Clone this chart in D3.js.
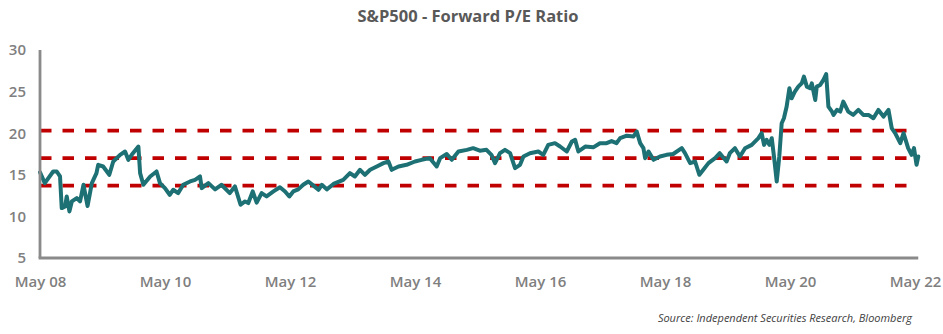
<!DOCTYPE html>
<html>
<head>
<meta charset="utf-8">
<script src="https://cdn.jsdelivr.net/npm/d3@7"></script>
<style>
  html, body { margin: 0; padding: 0; background: #ffffff; }
  svg { display: block; }
</style>
</head>
<body>
<svg id="chart" width="943" height="334"></svg>
<script>
// ---------------- DATA ----------------
const chartTitle = "S&P500 - Forward P/E Ratio";
const sourceNote = "Source: Independent Securities Research, Bloomberg";

const dates = [
  "2008-05-01","2008-05-29","2008-07-17","2008-08-07","2008-08-26","2008-09-05","2008-09-25","2008-10-04","2008-10-20","2008-11-03",
  "2008-12-02","2008-12-21","2009-01-10","2009-02-03","2009-02-28","2009-03-27","2009-04-06","2009-05-05","2009-06-10","2009-07-03",
  "2009-08-12","2009-09-10","2009-09-29","2009-10-19","2009-11-27","2009-12-07","2009-12-26","2010-02-04","2010-03-13","2010-04-02",
  "2010-05-01","2010-05-29","2010-06-18","2010-07-17","2010-08-16","2010-09-25","2010-10-24","2010-11-22","2010-12-02","2011-01-10",
  "2011-02-18","2011-03-27","2011-05-15","2011-06-14","2011-07-17","2011-08-12","2011-08-31","2011-09-26","2011-10-19","2011-11-17",
  "2011-12-16","2012-01-25","2012-03-03","2012-04-02","2012-04-27","2012-05-20","2012-06-18","2012-07-17","2012-08-16","2012-09-15",
  "2012-10-14","2012-11-03","2012-12-02","2013-01-10","2013-03-08","2013-04-16","2013-05-15","2013-06-14","2013-07-13","2013-08-12",
  "2013-09-20","2013-10-29","2013-11-27","2013-12-16","2014-01-25","2014-03-13","2014-05-01","2014-06-09","2014-07-27","2014-09-05",
  "2014-09-25","2014-11-03","2014-12-02","2015-01-10","2015-02-28","2015-04-06","2015-05-15","2015-06-23","2015-07-22","2015-08-12",
  "2015-09-10","2015-10-09","2015-11-08","2015-12-07","2016-01-05","2016-01-25","2016-03-03","2016-04-21","2016-05-20","2016-06-18",
  "2016-07-27","2016-08-26","2016-10-04","2016-11-03","2016-11-22","2016-12-11","2017-01-20","2017-03-08","2017-04-16","2017-05-25",
  "2017-06-23","2017-07-22","2017-08-12","2017-09-20","2017-10-29","2017-11-17","2017-12-07","2017-12-26","2018-01-05","2018-01-25",
  "2018-02-23","2018-04-02","2018-05-10","2018-06-18","2018-08-07","2018-08-26","2018-09-25","2018-10-24","2018-11-18","2018-12-11",
  "2019-01-10","2019-02-18","2019-03-17","2019-04-26","2019-05-15","2019-06-14","2019-07-13","2019-08-12","2019-09-20","2019-10-29",
  "2019-11-17","2019-12-01","2019-12-16","2020-01-01","2020-01-15","2020-01-28","2020-02-13","2020-02-28","2020-03-13","2020-03-26",
  "2020-04-11","2020-04-27","2020-05-10","2020-05-29","2020-06-18","2020-07-08","2020-07-21","2020-08-07","2020-08-26","2020-09-05",
  "2020-09-25","2020-10-04","2020-10-24","2020-11-12","2020-11-28","2020-12-11","2021-01-01","2021-01-10","2021-01-30","2021-02-18",
  "2021-03-08","2021-04-06","2021-05-05","2021-06-04","2021-07-03","2021-08-02","2021-08-31","2021-09-29","2021-10-29","2021-11-27",
  "2021-12-16","2022-01-05","2022-02-04","2022-02-23","2022-03-22","2022-04-11","2022-04-25","2022-05-10","2022-05-20"
];

const peValues = [
  15.3,14.0,15.4,15.4,14.8,11.0,11.2,12.4,10.6,11.8,
  12.2,11.8,13.8,11.25,14.0,15.2,16.2,16.0,15.0,16.6,
  17.4,17.8,16.8,17.4,18.4,15.2,13.8,14.8,15.4,14.0,
  13.4,12.6,13.2,12.8,13.8,14.2,14.4,14.8,13.4,14.0,
  13.25,13.8,12.8,13.6,11.4,11.8,11.6,13.0,11.65,12.8,
  12.4,13.0,13.5,13.0,12.4,13.0,13.25,13.8,14.2,13.7,
  13.2,13.8,13.25,13.9,14.4,15.2,14.8,15.6,15.0,15.6,
  16.0,16.4,16.6,15.6,16.0,16.2,16.6,16.8,17.0,16.0,
  17.0,17.5,16.8,17.8,18.0,18.2,17.9,18.0,17.4,16.4,
  17.6,18.0,17.6,15.8,16.2,17.2,17.6,17.8,17.4,18.6,
  18.8,18.4,17.8,19.0,19.2,17.8,18.4,18.3,18.8,18.8,
  19.05,18.8,19.4,19.7,19.6,20.2,18.8,18.2,17.0,17.8,
  16.8,17.2,17.4,17.5,18.2,17.6,16.4,16.6,15.0,15.6,
  16.4,17.0,17.6,16.6,17.6,18.2,17.2,18.2,18.6,19.4,
  20.0,18.6,19.2,18.6,19.4,17.2,14.2,17.2,21.2,21.8,
  23.2,25.4,24.2,25.0,25.6,26.0,26.8,25.6,25.4,26.0,
  24.0,25.6,25.8,26.4,27.1,23.2,22.6,22.2,22.8,22.6,
  23.8,22.6,22.2,22.8,22.2,22.2,21.8,22.8,22.0,22.8,
  20.6,20.0,18.8,20.0,18.2,17.4,18.2,16.2,17.2
];

// average and +/- 1 standard deviation bands
const refLevels = [20.3, 17.0, 13.7];

const xTickDates = ["2008-05-01","2010-05-01","2012-05-01","2014-05-01","2016-05-01","2018-05-01","2020-05-01","2022-05-01"];
const xTickLabels = ["May 08","May 10","May 12","May 14","May 16","May 18","May 20","May 22"];
const yTicks = [5, 10, 15, 20, 25, 30];

// ---------------- DRAW ----------------
const parse = d3.timeParse("%Y-%m-%d");
const series = dates.map((d, i) => ({ date: parse(d), value: peValues[i] }));
const tickDates = xTickDates.map(parse);

const svg = d3.select("#chart");
const fontFam = "'Open Sans', 'Noto Sans', sans-serif";

const x = d3.scaleTime()
  .domain([tickDates[0], tickDates[tickDates.length - 1]])
  .range([40, 915]);
const y = d3.scaleLinear().domain([5, 30]).range([258, 50]);

const axisColor = "#8a8a8a";
const labelColor = "#7f7f7f";
const xEnd = x(series[series.length - 1].date);

// title
svg.append("text")
  .attr("x", 468).attr("y", 22)
  .attr("text-anchor", "middle")
  .attr("font-family", fontFam)
  .attr("font-weight", 700)
  .attr("font-size", 16.5)
  .attr("fill", "#595959")
  .text(chartTitle);

// reference dashed lines
svg.append("g").selectAll("line")
  .data(refLevels)
  .join("line")
  .attr("x1", x.range()[0]).attr("x2", 911)
  .attr("y1", d => y(d)).attr("y2", d => y(d))
  .attr("stroke", "#c00000")
  .attr("stroke-width", 3.8)
  .attr("stroke-dasharray", "11.5,11");

// line
const line = d3.line()
  .x(d => x(d.date))
  .y(d => y(d.value))
  .curve(d3.curveLinear);

svg.append("path")
  .datum(series)
  .attr("fill", "none")
  .attr("stroke", "#1d7073")
  .attr("stroke-width", 4)
  .attr("stroke-linejoin", "round")
  .attr("stroke-linecap", "round")
  .attr("d", line);

// y axis
const yAxis = d3.axisLeft(y).tickValues(yTicks).tickSize(0).tickPadding(14);
const gy = svg.append("g").attr("transform", `translate(${x.range()[0]},0)`).call(yAxis);
gy.select(".domain").remove();
gy.selectAll("text")
  .attr("font-family", fontFam)
  .attr("font-size", 15)
  .attr("font-weight", 600)
  .attr("fill", labelColor);

svg.append("line")
  .attr("x1", x.range()[0]).attr("x2", x.range()[0])
  .attr("y1", y.range()[1]).attr("y2", y.range()[0])
  .attr("stroke", axisColor).attr("stroke-width", 2.8);

// x axis
const xAxis = d3.axisBottom(x)
  .tickValues(tickDates)
  .tickFormat((d, i) => xTickLabels[i])
  .tickSize(0).tickPadding(18);
const gx = svg.append("g").attr("transform", `translate(0,${y.range()[0]})`).call(xAxis);
gx.select(".domain").remove();
gx.selectAll("text")
  .attr("font-family", fontFam)
  .attr("font-size", 15)
  .attr("font-weight", 600)
  .attr("fill", labelColor);

svg.append("line")
  .attr("x1", x.range()[0] - 1.4).attr("x2", xEnd)
  .attr("y1", y.range()[0]).attr("y2", y.range()[0])
  .attr("stroke", axisColor).attr("stroke-width", 2.8);

// source
svg.append("text")
  .attr("x", 912).attr("y", 322)
  .attr("text-anchor", "end")
  .attr("font-family", fontFam)
  .attr("font-style", "italic")
  .attr("font-size", 11)
  .attr("fill", "#404040")
  .text(sourceNote);
</script>
</body>
</html>
